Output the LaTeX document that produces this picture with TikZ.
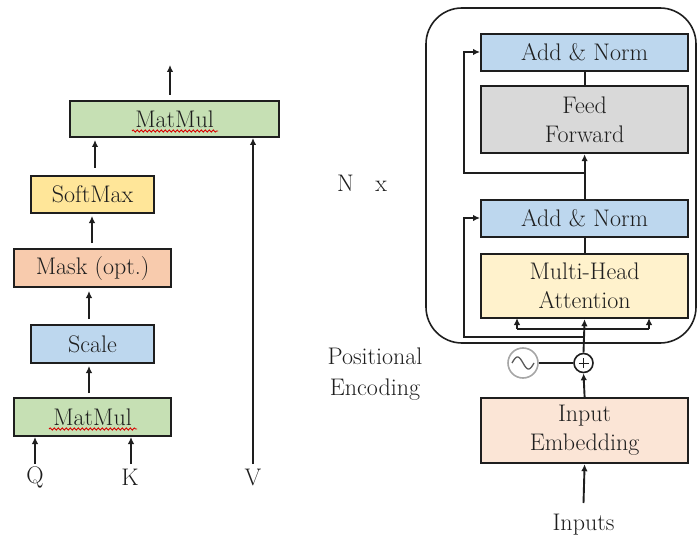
\documentclass[tikz,border=0pt]{standalone}
\usetikzlibrary{arrows.meta,decorations.pathmorphing}

\definecolor{cGreen}{HTML}{C6E0B4}
\definecolor{cYellow}{HTML}{FFE699}
\definecolor{cOrange}{HTML}{F8CBAD}
\definecolor{cBlue}{HTML}{BDD7EE}
\definecolor{cGray}{HTML}{D9D9D9}
\definecolor{cCream}{HTML}{FFF2CC}
\definecolor{cPeach}{HTML}{FBE5D6}
\definecolor{cInk}{HTML}{1E1E1E}

\tikzset{
  blk/.style={draw=cInk, line width=2.2pt, inner sep=0pt, anchor=north west,
    font=\rmfamily\fontsize{24}{29}\selectfont, align=center, text=cInk},
  arr/.style={line width=1.9pt, draw=cInk, -{Latex[length=7pt,width=6.5pt]}},
  ln/.style={line width=1.9pt, draw=cInk},
  lbl/.style={font=\rmfamily\fontsize{24}{31}\selectfont, text=cInk, align=center},
  squiggle/.style={draw=red!85!black, line width=0.9pt,
    decorate, decoration={snake, amplitude=1.1pt, segment length=4pt}}
}

\begin{document}
\begin{tikzpicture}[x=1pt,y=-1pt]
\useasboundingbox (0,0) rectangle (698,540);

% ---------- scaled dot-product attention ----------
\node[blk, fill=cGreen,  minimum width=209pt, minimum height=36pt] (mm2) at (69,100) {MatMul};
\node[blk, fill=cYellow, minimum width=123pt, minimum height=37pt] (sm)  at (30,175) {SoftMax};
\node[blk, fill=cOrange, minimum width=157pt, minimum height=38pt] (mask) at (13,248) {Mask (opt.)};
\node[blk, fill=cBlue,   minimum width=123pt, minimum height=38pt] (scale) at (30,324) {Scale};
\node[blk, fill=cGreen,  minimum width=157pt, minimum height=38pt] (mm1) at (13,397) {MatMul};

\draw[squiggle] (132,131) -- (218,131);
\draw[squiggle] (49,429) -- (137,429);

\node[lbl] (q) at (35,477) {Q};
\node[lbl] (k) at (130,477) {K};
\node[lbl] (v) at (253,477) {V};

\coordinate (outTop) at (170,65);
\draw[arr] (170,95) -- (outTop);
\draw[arr] (95,168) -- (95,140);
\draw[arr] (92,243) -- (92,216);
\draw[arr] (89,319) -- (89,291);
\draw[arr] (89,393) -- (89,366);
\draw[arr] (35,464) -- (35,437);
\draw[arr] (131,464) -- (131,437);
\draw[arr] (253,464) -- (253,138);

% ---------- encoder block ----------
\draw[line width=1.6pt, draw=cInk, rounded corners=36pt] (426,8) rectangle (696,343);
\node[lbl] (nx) at (362,183) {N\hspace{0.9em}x};

\node[blk, fill=cBlue,  minimum width=207pt, minimum height=37pt] (an2) at (480,33) {Add \& Norm};
\node[blk, fill=cGray,  minimum width=207pt, minimum height=67pt] (ff)  at (480,85) {Feed\\Forward};
\node[blk, fill=cBlue,  minimum width=207pt, minimum height=37pt] (an1) at (480,199) {Add \& Norm};
\node[blk, fill=cCream, minimum width=207pt, minimum height=64pt] (mha) at (480,253) {Multi-Head\\Attention};
\node[blk, fill=cPeach, minimum width=207pt, minimum height=65pt] (emb) at (480,397) {Input\\Embedding};

\draw[ln] (ff.north) -- (an2.south);
\draw[ln] (mha.north) -- (an1.south);
\draw[arr] (an1.north) -- (ff.south);

% residual connections
\draw[arr] (583.5,173) -- (464,173) -- (464,52) -- (an2.west |- 0,52);
\draw[arr] (583.5,337) -- (464,337) -- (464,218) -- (an1.west |- 0,218);

% inputs to attention (three branches)
\node[draw=cInk, line width=1.6pt, circle, minimum size=19pt, inner sep=0pt] (plus) at (583.5,363) {};
\draw[line width=1pt, draw=cInk] (578.5,363) -- (588.5,363) (583.5,358) -- (583.5,368);
\draw[arr] (plus.north) -- (mha.south);
\draw[ln] (517,329) -- (649,329);
\draw[arr] (517,329) -- (517,318);
\draw[arr] (649,329) -- (649,318);

% positional encoding
\node[draw=gray!70, line width=1.6pt, circle, minimum size=30pt, inner sep=0pt] (pe) at (523,363) {};
\draw[gray!70!black, line width=1.3pt]
  plot[domain=-11:11, samples=40, smooth] ({523+\x},{363+6*sin(\x*180/11)});
\draw[ln] (pe.east) -- (plus.west);
\node[lbl] (pelbl) at (375,374) {Positional\\Encoding};

\draw[arr] (emb.north) -- (plus.south);
\node[lbl] (inp) at (583.5,525) {Inputs};
\draw[arr] (583.5,503) -- (emb.south);
\end{tikzpicture}
\end{document}
